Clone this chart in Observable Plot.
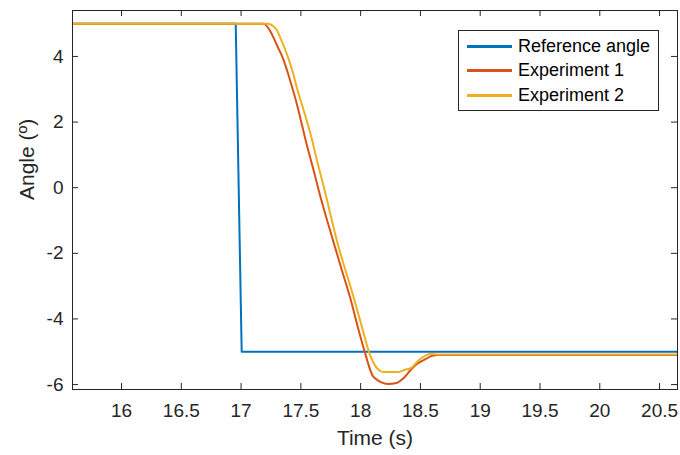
<!DOCTYPE html>
<html>
<head>
<meta charset="utf-8">
<script src="https://cdn.jsdelivr.net/npm/d3@7"></script>
<script src="https://cdn.jsdelivr.net/npm/@observablehq/plot@0.6"></script>
<style>
  html, body { margin: 0; padding: 0; background: #fff; }
  #wrap { position: relative; width: 680px; height: 455px; font-family: "Liberation Sans", Arial, sans-serif; }
  #legend { position: absolute; left: 458px; top: 30px; width: 199px; height: 79px; border: 1px solid #262626; background: #fff; box-sizing: content-box; }
  .row { position: absolute; left: 0; height: 24px; display: flex; align-items: center; }
  .sw { position: relative; width: 45px; height: 3px; margin-left: 8px; margin-right: 6px; }
  .lab { font-size: 18px; color: #000; white-space: nowrap; }
</style>
</head>
<body>
<div id="wrap"></div>
<script>
const seriesNames = ["Reference angle", "Experiment 1", "Experiment 2"];
const seriesColors = ["#0072BD", "#D95319", "#EDB120"];

const refT = [15.59, 16.955, 17.005, 20.65];
const refV = [5, 5, -5, -5];

const exp1T = [15.59, 17.19, 17.25, 17.30, 17.35, 17.39, 17.43, 17.47, 17.51, 17.55, 17.60, 17.65, 17.77, 17.85, 17.92, 17.98, 18.03, 18.11, 18.23, 18.30, 18.36, 18.42, 18.48, 18.53, 18.60, 18.65, 20.65];
const exp1V = [5, 5, 4.73, 4.34, 3.94, 3.51, 3.02, 2.50, 1.90, 1.30, 0.62, -0.09, -1.62, -2.60, -3.45, -4.30, -4.95, -5.78, -5.98, -5.95, -5.80, -5.55, -5.35, -5.25, -5.12, -5.10, -5.10];

const exp2T = [15.59, 17.22, 17.29, 17.33, 17.39, 17.43, 17.47, 17.52, 17.58, 17.64, 17.69, 17.80, 17.95, 18.02, 18.07, 18.10, 18.19, 18.31, 18.37, 18.42, 18.48, 18.58, 18.65, 20.65];
const exp2V = [5, 5, 4.85, 4.55, 4.00, 3.55, 3.00, 2.40, 1.65, 0.75, 0.05, -1.60, -3.45, -4.37, -5.01, -5.28, -5.62, -5.62, -5.55, -5.50, -5.28, -5.07, -5.08, -5.08];

const xTicks = [16, 16.5, 17, 17.5, 18, 18.5, 19, 19.5, 20, 20.5];
const yTicks = [-6, -4, -2, 0, 2, 4];
const xLabel = "Time (s)";
const yLabel = "Angle (º)";

const W = 680, H = 455;
const mL = 72, mR = 3, mT = 10, mB = 66;
const pw = W - mL - mR, ph = H - mT - mB;
const tk = 6;
const axisColor = "#262626";

const toRows = (ts, vs) => ts.map((t, i) => ({t, v: vs[i]}));
const ref = toRows(refT, refV);
const e1 = toRows(exp1T, exp1V);
const e2 = toRows(exp2T, exp2V);

const chart = Plot.plot({
  width: W, height: H,
  marginLeft: mL, marginRight: mR, marginTop: mT, marginBottom: mB,
  style: {fontFamily: "Liberation Sans, Arial, sans-serif", color: axisColor, background: "#fff"},
  x: {domain: [15.59, 20.65]},
  y: {domain: [-6.15, 5.4]},
  marks: [
    Plot.lineY(ref, {x: "t", y: "v", stroke: seriesColors[0], strokeWidth: 2, clip: true}),
    Plot.lineY(e1, {x: "t", y: "v", stroke: seriesColors[1], strokeWidth: 2, clip: true, curve: "monotone-x"}),
    Plot.lineY(e2, {x: "t", y: "v", stroke: seriesColors[2], strokeWidth: 2, clip: true, curve: "monotone-x"}),
    Plot.tickX(xTicks, {x: d => d, stroke: axisColor, strokeWidth: 1, insetTop: ph - tk}),
    Plot.tickX(xTicks, {x: d => d, stroke: axisColor, strokeWidth: 1, insetBottom: ph - tk}),
    Plot.tickY(yTicks, {y: d => d, stroke: axisColor, strokeWidth: 1, insetRight: pw - tk}),
    Plot.tickY(yTicks, {y: d => d, stroke: axisColor, strokeWidth: 1, insetLeft: pw - tk}),
    Plot.frame({stroke: axisColor, strokeWidth: 1}),
    Plot.axisX(xTicks, {tickSize: 0, tickPadding: 14, fontSize: 19, label: null, fill: axisColor, tickFormat: d => String(d)}),
    Plot.axisY(yTicks, {tickSize: 0, tickPadding: 9, fontSize: 19, label: null, fill: axisColor, tickFormat: d => String(d)}),
    Plot.text([xLabel], {frameAnchor: "bottom", dy: 49, lineAnchor: "middle", fontSize: 21, fill: axisColor}),
    Plot.text([yLabel], {frameAnchor: "left", dx: -45, rotate: -90, lineAnchor: "middle", fontSize: 21, fill: axisColor})
  ]
});

const wrap = document.getElementById("wrap");
wrap.appendChild(chart);

const leg = document.createElement("div");
leg.id = "legend";
const rowTops = [3, 27, 52];
seriesNames.forEach((name, i) => {
  const r = document.createElement("div");
  r.className = "row";
  r.style.top = rowTops[i] + "px";
  const sw = document.createElement("div");
  sw.className = "sw";
  sw.style.background = seriesColors[i];
  const lab = document.createElement("span");
  lab.className = "lab";
  lab.textContent = name;
  r.appendChild(sw);
  r.appendChild(lab);
  leg.appendChild(r);
});
wrap.appendChild(leg);
</script>
</body>
</html>
